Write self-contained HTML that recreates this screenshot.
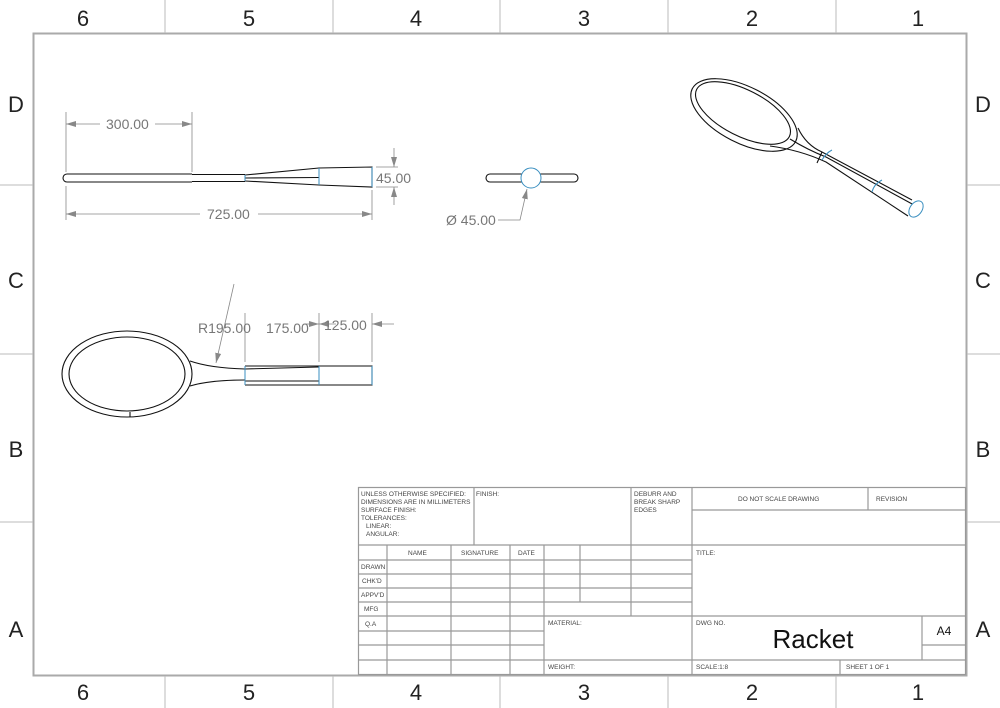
<!DOCTYPE html>
<html><head><style>
body{margin:0;background:#fff;}
svg{display:block;font-family:"Liberation Sans",sans-serif;}
</style></head><body>
<svg width="1000" height="708" viewBox="0 0 1000 708" xmlns="http://www.w3.org/2000/svg">
<defs>
<marker id="a" viewBox="0 0 10 6" refX="10" refY="3" markerWidth="10" markerHeight="6" orient="auto-start-reverse" markerUnits="userSpaceOnUse"><path d="M0 0 L10 3 L0 6 Z" fill="#888"/></marker>
</defs>
<rect x="0" y="0" width="1000" height="708" fill="#fff"/>
<rect x="33.5" y="33.5" width="933" height="642" fill="none" stroke="#aaa" stroke-width="2"/>
<g stroke="#bbb" stroke-width="1">
<line x1="165" y1="0" x2="165" y2="33"/><line x1="333" y1="0" x2="333" y2="33"/><line x1="500" y1="0" x2="500" y2="33"/><line x1="668" y1="0" x2="668" y2="33"/><line x1="836" y1="0" x2="836" y2="33"/>
<line x1="165" y1="676" x2="165" y2="708"/><line x1="333" y1="676" x2="333" y2="708"/><line x1="500" y1="676" x2="500" y2="708"/><line x1="668" y1="676" x2="668" y2="708"/><line x1="836" y1="676" x2="836" y2="708"/>
<line x1="0" y1="185" x2="33" y2="185"/><line x1="0" y1="354" x2="33" y2="354"/><line x1="0" y1="522" x2="33" y2="522"/>
<line x1="967" y1="185" x2="1000" y2="185"/><line x1="967" y1="354" x2="1000" y2="354"/><line x1="967" y1="522" x2="1000" y2="522"/>
</g>
<g font-size="22" fill="#222" text-anchor="middle">
<text x="83" y="26">6</text><text x="249" y="26">5</text><text x="416" y="26">4</text><text x="584" y="26">3</text><text x="752" y="26">2</text><text x="918" y="26">1</text>
<text x="83" y="700">6</text><text x="249" y="700">5</text><text x="416" y="700">4</text><text x="584" y="700">3</text><text x="752" y="700">2</text><text x="918" y="700">1</text>
<text x="16" y="112">D</text><text x="16" y="288">C</text><text x="16" y="457">B</text><text x="16" y="637">A</text>
<text x="983" y="112">D</text><text x="983" y="288">C</text><text x="983" y="457">B</text><text x="983" y="637">A</text>
</g>

<!-- title block -->
<g stroke="#999" stroke-width="1.2" fill="none">
<rect x="358.5" y="487.5" width="607" height="187"/>
<line x1="358" y1="545" x2="692" y2="545"/>
<line x1="474" y1="487" x2="474" y2="545"/>
<line x1="631" y1="487" x2="631" y2="616"/>
<line x1="692" y1="487" x2="692" y2="675"/>
<line x1="692" y1="510" x2="966" y2="510"/>
<line x1="868" y1="487" x2="868" y2="510"/>
<line x1="692" y1="545" x2="966" y2="545"/>
<line x1="358" y1="560" x2="692" y2="560"/>
<line x1="358" y1="574" x2="692" y2="574"/>
<line x1="358" y1="588" x2="692" y2="588"/>
<line x1="358" y1="602" x2="692" y2="602"/>
<line x1="358" y1="616" x2="966" y2="616"/>
<line x1="358" y1="631" x2="544" y2="631"/>
<line x1="358" y1="645" x2="544" y2="645"/>
<line x1="922" y1="645" x2="966" y2="645"/>
<line x1="358" y1="660" x2="966" y2="660"/>
<line x1="387" y1="545" x2="387" y2="675"/>
<line x1="451" y1="545" x2="451" y2="675"/>
<line x1="510" y1="545" x2="510" y2="675"/>
<line x1="544" y1="545" x2="544" y2="675"/>
<line x1="580" y1="545" x2="580" y2="602"/>
<line x1="922" y1="616" x2="922" y2="660"/>
<line x1="840" y1="660" x2="840" y2="675"/>
</g>
<g font-size="6.5" fill="#444">
<text x="361" y="496">UNLESS OTHERWISE SPECIFIED:</text>
<text x="361" y="504">DIMENSIONS ARE IN MILLIMETERS</text>
<text x="361" y="512">SURFACE FINISH:</text>
<text x="361" y="520">TOLERANCES:</text>
<text x="366" y="528">LINEAR:</text>
<text x="366" y="536">ANGULAR:</text>
<text x="476" y="496">FINISH:</text>
<text x="634" y="496">DEBURR AND</text>
<text x="634" y="504">BREAK SHARP</text>
<text x="634" y="512">EDGES</text>
<text x="738" y="501">DO NOT SCALE DRAWING</text>
<text x="876" y="501">REVISION</text>
<text x="408" y="555">NAME</text>
<text x="461" y="555">SIGNATURE</text>
<text x="518" y="555">DATE</text>
<text x="361" y="569">DRAWN</text>
<text x="362" y="583">CHK'D</text>
<text x="361" y="597">APPV'D</text>
<text x="364" y="611">MFG</text>
<text x="365" y="626">Q.A</text>
<text x="548" y="625">MATERIAL:</text>
<text x="548" y="669">WEIGHT:</text>
<text x="696" y="555">TITLE:</text>
<text x="696" y="625">DWG NO.</text>
<text x="696" y="669">SCALE:1:8</text>
<text x="846" y="669">SHEET 1 OF 1</text>
</g>
<text x="813" y="648" font-size="26" fill="#111" text-anchor="middle">Racket</text>
<text x="944" y="635" font-size="12" fill="#111" text-anchor="middle">A4</text>

<!-- top view -->
<g stroke="#111" stroke-width="1.1" fill="none">
<path d="M67 174 L192 174 M67 182 L192 182 M67 174 A4 4 0 0 0 67 182"/>
<path d="M192 174.5 L245 174.5 M192 181.5 L245 181.5"/>
<path d="M245 175 L319 168 L372 167 L372 187 L319 185 L245 181"/>
<path d="M245 178 L319 177.5"/>
</g>
<g stroke="#3a8fc0" stroke-width="1"><line x1="245" y1="175" x2="245" y2="181"/><line x1="319" y1="168" x2="319" y2="185"/><line x1="372" y1="167" x2="372" y2="187"/></g>
<g stroke="#888" stroke-width="0.8" fill="none">
<line x1="66" y1="112" x2="66" y2="172"/><line x1="192" y1="112" x2="192" y2="172"/>
<line x1="66" y1="124" x2="100" y2="124" marker-start="url(#a)"/><line x1="155" y1="124" x2="192" y2="124" marker-end="url(#a)"/>
<line x1="66" y1="186" x2="66" y2="220"/><line x1="372" y1="190" x2="372" y2="220"/>
<line x1="66" y1="214" x2="200" y2="214" marker-start="url(#a)"/><line x1="258" y1="214" x2="372" y2="214" marker-end="url(#a)"/>
<line x1="376" y1="167" x2="398" y2="167"/><line x1="376" y1="187" x2="398" y2="187"/>
<line x1="394" y1="148" x2="394" y2="167" marker-end="url(#a)"/><line x1="394" y1="205" x2="394" y2="187" marker-end="url(#a)"/>
</g>
<rect x="374" y="170" width="38" height="15" fill="#fff"/>
<g font-size="14" fill="#777">
<text x="106" y="129">300.00</text>
<text x="207" y="219">725.00</text>
<text x="376" y="183">45.00</text>
</g>

<!-- end view -->
<g stroke="#111" stroke-width="1.1" fill="none">
<path d="M490 174 L574 174 A4 4 0 0 1 574 182 L490 182 A4 4 0 0 1 490 174"/>
</g>
<circle cx="531" cy="178" r="10" fill="#fff" stroke="#3a8fc0" stroke-width="1"/>
<path d="M498 220 L520 220 L527 189" stroke="#888" stroke-width="0.8" fill="none" marker-end="url(#a)"/>
<text x="446" y="225" font-size="14" fill="#777">Ø 45.00</text>

<!-- front view -->
<g stroke="#111" stroke-width="1.1" fill="none">
<ellipse cx="127" cy="374" rx="65" ry="43"/>
<ellipse cx="127" cy="374" rx="58" ry="37"/>
<path d="M190 361 Q210 368 245 369 M190 386 Q210 380 245 380"/>
<path d="M245 366 L372 366 L372 385 L245 385"/>
<path d="M245 369 L319 367 M245 381 L319 381"/>
<line x1="130" y1="412" x2="130" y2="417"/>
</g>
<g stroke="#3a8fc0" stroke-width="1"><line x1="245" y1="366" x2="245" y2="385"/><line x1="319" y1="366" x2="319" y2="385"/><line x1="372" y1="366" x2="372" y2="385"/></g>
<g stroke="#888" stroke-width="0.8" fill="none">
<line x1="234" y1="284" x2="216" y2="363" marker-end="url(#a)"/>
<line x1="245" y1="313" x2="245" y2="362"/><line x1="319" y1="313" x2="319" y2="362"/><line x1="372" y1="313" x2="372" y2="362"/>
<line x1="305" y1="324" x2="319" y2="324" marker-end="url(#a)"/><line x1="336" y1="324" x2="319" y2="324" marker-end="url(#a)"/><line x1="394" y1="324" x2="372" y2="324" marker-end="url(#a)"/>
</g>
<g font-size="14" fill="#777">
<text x="198" y="333">R195.00</text>
<text x="266" y="333">175.00</text>
<text x="324" y="330">125.00</text>
</g>

<!-- iso view -->
<g stroke="#111" stroke-width="1.1" fill="none">
<ellipse cx="744" cy="115" rx="58" ry="28" transform="rotate(27 744 115)"/>
<ellipse cx="743" cy="113" rx="52" ry="23" transform="rotate(27 743 113)"/>
<path d="M798 128 Q806 145 822 152 L912 200"/>
<path d="M770 146 Q800 150 826 162 L908 216"/>
<path d="M790 139 Q808 150 826 157 L914 205"/>
<line x1="817" y1="163" x2="822" y2="152"/>
</g>
<path d="M822 160 Q826 153 832 150" stroke="#3a8fc0" fill="none"/>
<path d="M872 192 Q874 184 882 180" stroke="#3a8fc0" fill="none"/>
<ellipse cx="916" cy="209" rx="6" ry="9" transform="rotate(35 916 209)" fill="#fff" stroke="#3a8fc0" stroke-width="1"/>
</svg>
</body></html>
